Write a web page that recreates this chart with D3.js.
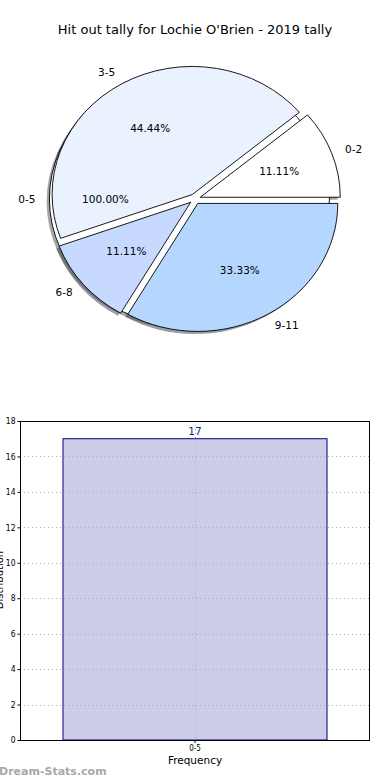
<!DOCTYPE html>
<html>
<head>
<meta charset="utf-8">
<script src="https://cdn.jsdelivr.net/npm/d3@7/dist/d3.min.js"></script>
<style>
  html, body { margin: 0; padding: 0; background: #fff; }
  svg { display: block; font-family: "DejaVu Sans", sans-serif; }
</style>
</head>
<body>
<svg id="chart" width="390" height="780"></svg>
<script>
// ---- data ----
const title = "Hit out tally for Lochie O'Brien - 2019 tally";
const pieCategories = ["0-2", "3-5", "6-8", "9-11"];
const pieValues = [1, 4, 1, 3];
const pieColors = ["#ffffff", "#eaf1ff", "#c7d9ff", "#b5d6ff"];
const totalCategories = ["0-5"];
const totalValues = [17];
const barCategories = ["0-5"];
const barValues = [17];
const yTicks = [0, 2, 4, 6, 8, 10, 12, 14, 16, 18];
const xLabel = "Frequency";
const yLabel = "Distribution";
const watermark = "Dream-Stats.com";

(function () {
const svg = d3.select("#chart");

svg.append("text").attr("x", 195).attr("y", 34).attr("text-anchor", "middle")
  .attr("font-size", 13).attr("fill", "#000").text(title);

// ---- pie ----
const cx = 195, cy = 199, rx = 140, ry = 128, expl = 0.04;
const shOx = -0.02, shOy = 0.02;
const pie = d3.pie().sort(null).startAngle(Math.PI / 2).endAngle(Math.PI / 2 - 2 * Math.PI);
const arc = d3.arc().innerRadius(0).outerRadius(1);

const mainArcs = pie(pieValues);
const totalArcs = pie(totalValues);

function offsetOf(d, k) {
  const a = (d.startAngle + d.endAngle) / 2;
  return [k * rx * Math.sin(a), -k * ry * Math.cos(a)];
}

const pieG = svg.append("g");
const allWedges = totalArcs.map((d, i) => ({ d, color: "#ffffff", label: totalCategories[i], total: d3.sum(totalValues) }))
  .concat(mainArcs.map((d, i) => ({ d, color: pieColors[i], label: pieCategories[i], total: d3.sum(pieValues) })));

function shade(c) {
  const r = d3.rgb(c);
  return d3.rgb(r.r * 0.3, r.g * 0.3, r.b * 0.3).toString();
}

allWedges.forEach(w => {
  const [dx, dy] = offsetOf(w.d, expl);
  pieG.append("path")
    .attr("d", arc(w.d))
    .attr("transform", `translate(${cx + dx + shOx * rx},${cy + dy + shOy * ry}) scale(${rx},${ry})`)
    .attr("fill", shade(w.color)).attr("fill-opacity", 0.5)
    .attr("stroke", "none");
});
allWedges.forEach(w => {
  const [dx, dy] = offsetOf(w.d, expl);
  pieG.append("path")
    .attr("d", arc(w.d))
    .attr("transform", `translate(${cx + dx},${cy + dy}) scale(${rx},${ry})`)
    .attr("fill", w.color)
    .attr("stroke", "#000").attr("stroke-width", 0.9)
    .attr("vector-effect", "non-scaling-stroke")
    .attr("stroke-linejoin", "miter");
});
allWedges.forEach(w => {
  const a = (w.d.startAngle + w.d.endAngle) / 2;
  const sx = Math.sin(a), sy = -Math.cos(a);
  const lx = cx + (expl + 1.1) * rx * sx, ly = cy + (expl + 1.1) * ry * sy;
  pieG.append("text").attr("x", lx).attr("y", ly).attr("dy", "0.35em")
    .attr("text-anchor", sx > 0 ? "start" : "end")
    .attr("font-size", 10.5).attr("fill", "#000").text(w.label);
  const px = cx + (expl + 0.6) * rx * sx, py = cy + (expl + 0.6) * ry * sy;
  pieG.append("text").attr("x", px).attr("y", py).attr("dy", "0.35em")
    .attr("text-anchor", "middle")
    .attr("font-size", 10.5).attr("fill", "#000")
    .text((w.d.value / w.total * 100).toFixed(2) + "%");
});

// ---- bar chart ----
const pl = 20, pr = 370, pt = 421, pb = 740;
const x = d3.scaleBand().domain(barCategories).range([pl, pr]).padding(0.14);
const y = d3.scaleLinear().domain([0, 18]).range([pb, pt]);

const barG = svg.append("g");
barG.selectAll("rect.bar").data(barValues).enter().append("rect")
  .attr("class", "bar")
  .attr("x", (d, i) => x(barCategories[i]))
  .attr("width", x.bandwidth())
  .attr("y", d => y(d))
  .attr("height", d => y(0) - y(d))
  .attr("fill", "#ccccE6").attr("stroke", "#00008b").attr("stroke-width", 1);

barG.selectAll("line.hgrid").data(yTicks).enter().append("line")
  .attr("x1", pl).attr("x2", pr)
  .attr("y1", d => Math.round(y(d)) + 0.5).attr("y2", d => Math.round(y(d)) + 0.5)
  .attr("stroke", "#aaaaaa").attr("stroke-width", 1).attr("stroke-dasharray", "1,3");
barG.selectAll("line.vgrid").data(barCategories).enter().append("line")
  .attr("x1", d => Math.round(x(d) + x.bandwidth() / 2) + 0.5)
  .attr("x2", d => Math.round(x(d) + x.bandwidth() / 2) + 0.5)
  .attr("y1", pt).attr("y2", pb)
  .attr("stroke", "#aaaaaa").attr("stroke-width", 1).attr("stroke-dasharray", "1,3");

barG.selectAll("text.val").data(barValues).enter().append("text")
  .attr("x", (d, i) => x(barCategories[i]) + x.bandwidth() / 2)
  .attr("y", d => y(d) - 4)
  .attr("text-anchor", "middle").attr("font-size", 10.5).attr("fill", "#1a1a8e")
  .text(d => d);

barG.append("rect").attr("x", pl + 0.5).attr("y", pt + 0.5)
  .attr("width", pr - pl - 1).attr("height", pb - pt)
  .attr("fill", "none").attr("stroke", "#000").attr("stroke-width", 1);

const yAxis = d3.axisLeft(y).tickValues(yTicks).tickSize(3).tickPadding(2);
const yg = svg.append("g").attr("transform", `translate(${pl + 0.5},0)`).call(yAxis);
yg.select(".domain").remove();
yg.selectAll("text").attr("font-size", 8.5).attr("font-family", "'DejaVu Sans Condensed', 'DejaVu Sans', sans-serif").attr("fill", "#000");
yg.selectAll("line").attr("stroke", "#000");

const xAxis = d3.axisBottom(x).tickSize(3).tickPadding(2);
const xg = svg.append("g").attr("transform", `translate(0,${pb})`).call(xAxis);
xg.select(".domain").remove();
xg.selectAll("text").attr("font-size", 8).attr("font-family", "'DejaVu Sans Condensed', 'DejaVu Sans', sans-serif").attr("fill", "#000");
xg.selectAll("line").attr("stroke", "#000");

svg.append("text").attr("x", 195).attr("y", 764).attr("text-anchor", "middle")
  .attr("font-size", 10.5).attr("fill", "#000").text(xLabel);

svg.append("text").attr("transform", `translate(3,580) rotate(-90)`)
  .attr("text-anchor", "middle").attr("font-size", 10).attr("fill", "#000").text(yLabel);

svg.append("text").attr("x", -1).attr("y", 775)
  .attr("font-size", 11).attr("font-weight", "bold").attr("fill", "#a8a8a8")
  .attr("font-family", "'DejaVu Sans', sans-serif").text(watermark);
})();
</script>
</body>
</html>
